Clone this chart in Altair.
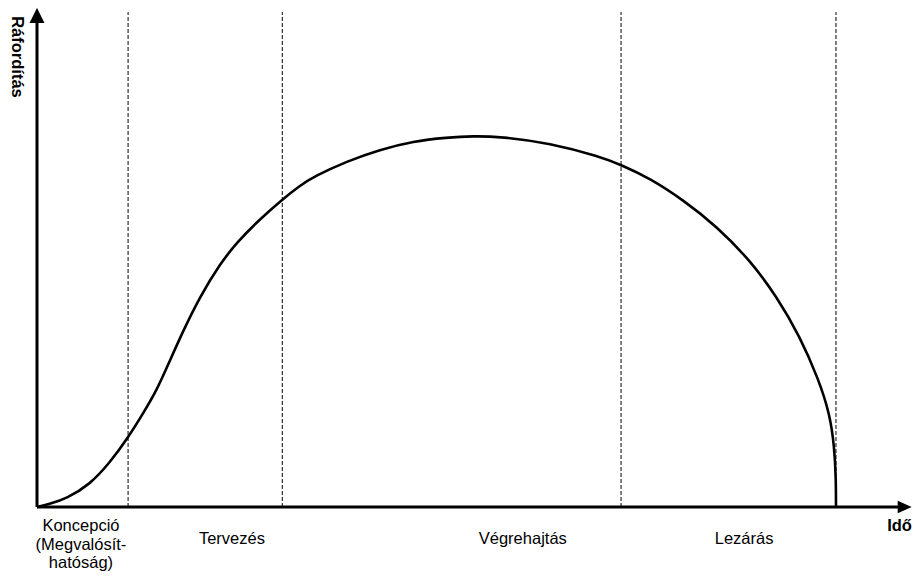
import altair as alt
import pandas as pd

# Effort curve (time in % of project duration, effort in % of peak)
curve_t = [0, 1.6, 3.7, 6.6, 9.1, 11.4, 13.3, 15.0, 16.6, 18.3, 20.4, 22.9, 25.0, 27.9,
           30.7, 32.9, 34.6, 38.8, 42.9, 47.1, 51.3, 54.6, 58.0, 64.2, 70.5, 73.1,
           76.7, 80.9, 85.1, 89.2, 92.6, 95.5, 97.8, 99.2, 99.8, 100.0, 100.0]
curve_e = [0, 0.8, 2.3, 6.0, 11.9, 18.7, 25.3, 31.5, 39.3, 47.5, 56.7, 65.5, 71.3, 77.6,
           82.9, 86.6, 89.0, 93.2, 96.3, 98.6, 99.6, 100.0, 99.8, 98.1, 94.4, 92.2,
           88.6, 82.7, 75.6, 66.6, 56.7, 45.9, 34.5, 25.3, 16.3, 7.3, 0]

phase_bounds = [11.4, 30.7, 73.1, 100.0]
phase_labels = ["Koncepció\n(Megvalósít-\nhatóság)", "Tervezés", "Végrehajtás", "Lezárás"]
phase_label_t = [5.5, 24.4, 60.8, 88.5]
phase_label_e = [-3.0, -6.5, -6.5, -6.5]

y_title = "Ráfordítás"
x_title = "Idő"

X_DOMAIN = [-3.63, 109.64]
Y_DOMAIN = [-18.33, 134.5]
FONT = "Liberation Sans"


def X(field="t"):
    return alt.X(f"{field}:Q", scale=alt.Scale(domain=X_DOMAIN, nice=False, zero=False), axis=None)


def Y(field="e"):
    return alt.Y(f"{field}:Q", scale=alt.Scale(domain=Y_DOMAIN, nice=False, zero=False), axis=None)


curve_df = pd.DataFrame({"t": curve_t, "e": curve_e, "i": list(range(len(curve_t)))})
curve = alt.Chart(curve_df).mark_line(
    color="black", strokeWidth=2.6, interpolate="basis"
).encode(x=X(), y=Y(), order="i:Q")

bounds_df = pd.DataFrame({"t": phase_bounds, "e": [0] * 4, "e2": [133.4] * 4})
dashes = alt.Chart(bounds_df).mark_rule(
    color="black", strokeWidth=1, strokeDash=[4, 2]
).encode(x=X(), y=Y(), y2="e2:Q")

# axes
xaxis_df = pd.DataFrame({"t": [0.0], "t2": [108.2], "e": [0.0]})
xaxis = alt.Chart(xaxis_df).mark_rule(color="black", strokeWidth=3).encode(
    x=X(), x2="t2:Q", y=Y())
yaxis_df = pd.DataFrame({"t": [0.0], "e": [0.0], "e2": [130.5]})
yaxis = alt.Chart(yaxis_df).mark_rule(color="black", strokeWidth=3).encode(
    x=X(), y=Y(), y2="e2:Q")

xarrow = alt.Chart(pd.DataFrame({"t": [108.6], "e": [0.0]})).mark_point(
    shape="M1,0L-1,-0.9L-1,0.9Z", size=196, filled=True, color="black", opacity=1
).encode(x=X(), y=Y())
yarrow = alt.Chart(pd.DataFrame({"t": [0.0], "e": [132.5]})).mark_point(
    shape="M0,-1L1,1L-1,1Z", size=225, filled=True, color="black", opacity=1
).encode(x=X(), y=Y())

labels_df = pd.DataFrame({"t": phase_label_t, "e": phase_label_e, "label": phase_labels})
labels = alt.Chart(labels_df).mark_text(
    font=FONT, fontSize=16.5, color="black", align="center", baseline="top",
    lineBreak="\n", lineHeight=18.5
).encode(x=X(), y=Y(), text="label:N")

ytitle = alt.Chart(pd.DataFrame({"t": [-2.5], "e": [132.3], "label": [y_title]})).mark_text(
    font=FONT, fontSize=16.5, fontWeight="bold", color="black", angle=90,
    align="left", baseline="middle"
).encode(x=X(), y=Y(), text="label:N")

xtitle = alt.Chart(pd.DataFrame({"t": [109.5], "e": [-3.0], "label": [x_title]})).mark_text(
    font=FONT, fontSize=16.5, fontWeight="bold", color="black",
    align="right", baseline="top"
).encode(x=X(), y=Y(), text="label:N")

chart = alt.layer(
    dashes, curve, xaxis, yaxis, xarrow, yarrow, labels, ytitle, xtitle
).properties(
    width=905, height=567,
    autosize=alt.AutoSizeParams(type="none"),
    padding=0,
    background="white",
).configure_view(stroke=None)

chart.save("out.html", embed_options={"renderer": "svg", "actions": False})
